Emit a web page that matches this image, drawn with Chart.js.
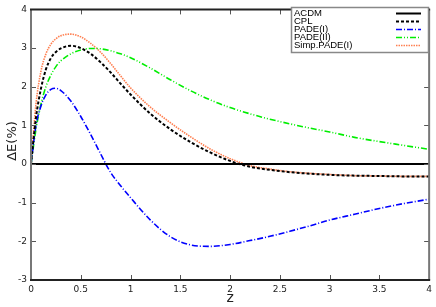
<!DOCTYPE html>
<html>
<head>
<meta charset="utf-8">
<script src="https://cdn.jsdelivr.net/npm/chart.js@4/dist/chart.umd.min.js"></script>
<style>
  html, body { margin: 0; padding: 0; background: #fff; }
  #wrap { width: 436px; height: 307px; }
</style>
</head>
<body>
<div id="wrap"><canvas id="myChart"></canvas></div>
<script>
// redshift grid
const zs = [0, 0.05, 0.1, 0.15, 0.2, 0.25, 0.3, 0.4, 0.5, 0.6, 0.7, 0.8, 0.9, 1.0, 1.2, 1.4, 1.6, 1.8, 2.0, 2.2, 2.4, 2.6, 2.8, 3.0, 3.25, 3.5, 3.75, 4.0]

// ΔE(%) per model
const lcdm = zs.map(() => 0)
const cpl = [0, 1.2, 1.95, 2.45, 2.74, 2.9, 2.99, 3.06, 3.0, 2.85, 2.63, 2.37, 2.08, 1.8, 1.3, 0.9, 0.57, 0.3, 0.08, -0.07, -0.15, -0.21, -0.25, -0.28, -0.30, -0.31, -0.32, -0.32]
const padeI = [0, 1.0, 1.5, 1.79, 1.93, 1.96, 1.9, 1.63, 1.23, 0.76, 0.26, -0.22, -0.56, -0.87, -1.45, -1.88, -2.09, -2.13, -2.08, -1.98, -1.87, -1.74, -1.6, -1.45, -1.3, -1.15, -1.02, -0.91]
const padeII = [0, 0.9, 1.55, 2.0, 2.3, 2.52, 2.67, 2.85, 2.95, 2.99, 2.98, 2.93, 2.85, 2.75, 2.48, 2.18, 1.9, 1.66, 1.46, 1.3, 1.16, 1.04, 0.93, 0.83, 0.69, 0.58, 0.48, 0.38]
const simpPade = [0, 1.55, 2.4, 2.85, 3.1, 3.24, 3.32, 3.36, 3.29, 3.12, 2.89, 2.6, 2.28, 1.97, 1.47, 1.07, 0.71, 0.39, 0.14, -0.04, -0.13, -0.2, -0.24, -0.27, -0.30, -0.31, -0.32, -0.32]

const xTicks = [0, 0.5, 1, 1.5, 2, 2.5, 3, 3.5, 4]
const yTicks = [-3, -2, -1, 0, 1, 2, 3, 4]

function pts(vals) {
    return zs.map((z, i) => ({ x: z, y: vals[i] }))
}

function series(label, vals, color, dash, width) {
    return {
        label: label,
        data: pts(vals),
        borderColor: color,
        borderWidth: width,
        borderDash: dash,
        pointRadius: 0,
        fill: false,
        cubicInterpolationMode: 'monotone'
    }
}

// gnuplot style inward ticks, axis titles, legend box
const frame = {
    id: 'frame',
    afterDraw(chart) {
        const ctx = chart.ctx
        const a = chart.chartArea
        const xs = chart.scales.x
        const ys = chart.scales.y
        ctx.save()
        ctx.strokeStyle = '#555'
        ctx.lineWidth = 1
        ctx.beginPath()
        xTicks.forEach(v => {
            const p = Math.round(xs.getPixelForValue(v)) + 0.5
            ctx.moveTo(p, a.bottom); ctx.lineTo(p, a.bottom - 5)
            ctx.moveTo(p, a.top); ctx.lineTo(p, a.top + 5)
        })
        yTicks.forEach(v => {
            const p = Math.round(ys.getPixelForValue(v)) + 0.5
            ctx.moveTo(a.left, p); ctx.lineTo(a.left + 5, p)
            ctx.moveTo(a.right, p); ctx.lineTo(a.right - 5, p)
        })
        ctx.stroke()
        // border
        ctx.lineWidth = 2
        ctx.strokeStyle = '#777'
        ctx.beginPath()
        ctx.moveTo(a.left, a.top); ctx.lineTo(a.left, a.bottom)
        ctx.moveTo(a.right, a.top); ctx.lineTo(a.right, a.bottom)
        ctx.stroke()
        ctx.strokeStyle = '#222'
        ctx.beginPath()
        ctx.moveTo(a.left - 1, a.top); ctx.lineTo(a.right + 1, a.top)
        ctx.moveTo(a.left - 1, a.bottom); ctx.lineTo(a.right + 1, a.bottom)
        ctx.stroke()

        // axis titles
        ctx.fillStyle = '#222'
        ctx.font = '14px "DejaVu Sans", sans-serif'
        ctx.textAlign = 'center'
        ctx.textBaseline = 'middle'
        ctx.fillText('z', (a.left + a.right) / 2, 298)
        ctx.save()
        ctx.translate(13, 141)
        ctx.rotate(-Math.PI / 2)
        ctx.font = '13px "DejaVu Sans", sans-serif'
        ctx.fillText('ΔE(%)', 0, 0)
        ctx.restore()

        // legend
        const bx = 291, by = 7, bw = 137, bh = 45
        ctx.fillStyle = '#fff'
        ctx.fillRect(bx, by, bw, bh)
        ctx.lineWidth = 1.5
        ctx.strokeStyle = '#888'
        ctx.strokeRect(bx + 0.5, by + 0.5, bw, bh)
        ctx.font = '9.5px "Liberation Sans", Arial, sans-serif'
        ctx.textAlign = 'left'
        ctx.textBaseline = 'middle'
        chart.data.datasets.forEach((ds, i) => {
            const y = by + 6 + i * 8
            ctx.fillStyle = '#000'
            ctx.fillText(ds.label, bx + 3, y)
            ctx.strokeStyle = ds.borderColor
            ctx.lineWidth = ds.borderWidth
            ctx.setLineDash(ds.borderDash)
            ctx.beginPath()
            ctx.moveTo(396, y + 0.5); ctx.lineTo(421, y + 0.5)
            ctx.stroke()
        })
        ctx.restore()
    }
}

const config = {
    type: 'line',
    data: {
        datasets: [
            series('ACDM', lcdm, '#000000', [], 2),
            series('CPL', cpl, '#000000', [3, 2], 2),
            series('PADE(I)', padeI, '#0000ff', [6, 2, 1, 2], 1.6),
            series('PADE(II)', padeII, '#00ee00', [6, 2, 1, 2, 1, 2], 1.6),
            series('Simp.PADE(I)', simpPade, '#ff7f50', [1.5, 1], 1.6)
        ]
    },
    plugins: [frame],
    options: {
        responsive: false,
        animation: false,
        devicePixelRatio: 1,
        layout: { padding: { top: 4, right: 0, left: 0, bottom: 0 } },
        plugins: { legend: { display: false }, tooltip: { enabled: false } },
        scales: {
            x: {
                type: 'linear',
                min: 0, max: 4,
                afterBuildTicks: s => { s.ticks = xTicks.map(v => ({ value: v })) },
                afterFit: s => { s.height = 27 },
                grid: { display: false, drawTicks: false },
                border: { display: false },
                ticks: { color: '#222', font: { size: 9, family: 'DejaVu Sans' }, padding: 4, maxRotation: 0, callback: v => String(v) }
            },
            y: {
                min: -3, max: 4,
                afterBuildTicks: s => { s.ticks = yTicks.map(v => ({ value: v })) },
                afterFit: s => { s.width = 31 },
                grid: { display: false, drawTicks: false },
                border: { display: false },
                ticks: { color: '#222', font: { size: 9, family: 'DejaVu Sans' }, padding: 4, callback: v => String(v) }
            }
        }
    }
}

const cv = document.getElementById('myChart')
cv.width = 436
cv.height = 307
new Chart(cv, config)
</script>
</body>
</html>
